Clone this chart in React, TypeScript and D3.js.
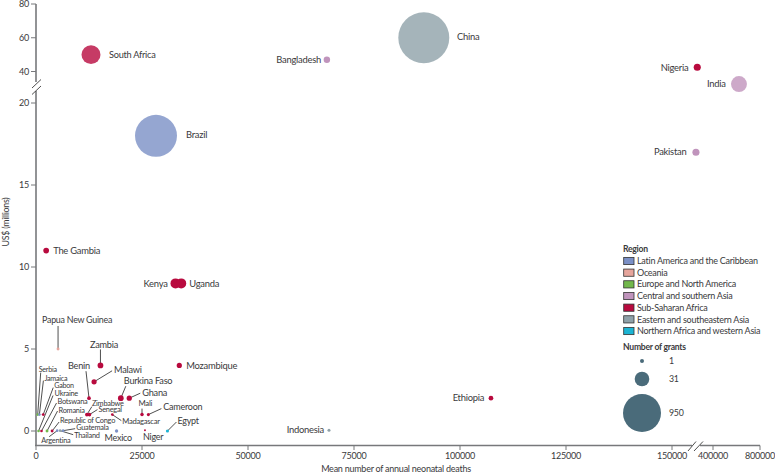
import React from "react";
import * as d3 from "d3";

const W = 775, H = 474;

const regions = ["Latin America and the Caribbean", "Oceania", "Europe and North America", "Central and southern Asia", "Sub-Saharan Africa", "Eastern and southeastern Asia", "Northern Africa and western Asia"];
const regionColors = ["#7b90c6", "#e6a59c", "#72b84c", "#c094bc", "#b80a3e", "#8fa1a9", "#1cb4d3"];

const names = ["China","South Africa","Bangladesh","Nigeria","India","Pakistan","Brazil","The Gambia","Kenya","Uganda","Mozambique","Ethiopia","Indonesia","Papua New Guinea","Zambia","Malawi","Benin","Burkina Faso","Ghana","Mali","Cameroon","Zimbabwe","Senegal","Madagascar","Egypt","Niger","Mexico","Serbia","Jamaica","Gabon","Ukraine","Botswana","Romania","Republic of Congo","Guatemala","Thailand","Argentina"];
const deaths = [91460,12970,68600,304000,621000,296000,28300,2400,32900,34250,33800,107300,69100,5200,15200,13700,12500,20000,22000,25000,26500,12000,12600,18000,31000,25700,19000,400,800,1700,600,1300,2600,3800,6400,5700,5000];
const funding = [60,50,47,42.5,32,17,18,11,9,9,4,2,0.05,5,4,3,2,2,2,1,1,1,1,1,0,0.05,0,1,1,1,0,0,0,0,0.02,0.02,0.02];
const grantSize = [2010,106,4.2,5.5,50,5.5,1232,3,13,13,2.3,1.7,0.45,0.4,3,2.3,0.8,3,2.3,0.7,0.5,0.8,0.8,0.3,0.5,0.1,0.6,0.3,0.3,0.4,0.3,0.3,0.4,0.4,0.3,0.3,0.3];
const regionIndex = [5,4,3,4,3,3,0,4,4,4,4,4,5,1,4,4,4,4,4,4,4,4,4,4,6,4,0,2,0,4,2,4,2,4,0,5,0];

const yTicks = [0,5,10,15,20,40,60,80];
const xTicks = [0,25000,50000,75000,100000,125000,150000,400000,800000];
const legendGrants = [1,31,950];

// label placement relative to each point: [text dx, text dy (centre), leader end dx, leader end dy, font size]
const labelLayout: Record<string, number[]> = {
  "China":[33.2,-1,0,0,9.4],"South Africa":[18,0,0,0,9.2],"Bangladesh":[-50.5,0,0,0,9.4],"Nigeria":[-36.6,0,0,0,9.4],"India":[-32,0,0,0,9.4],"Pakistan":[-42,0,0,0,9.4],"Brazil":[30,-1,0,0,9.4],"The Gambia":[7,0,0,0,9.4],"Kenya":[-32,0,0,0,9.4],"Uganda":[8,0,0,0,9.4],"Mozambique":[7,0,0,0,9.4],"Ethiopia":[-38.3,0,0,0,9.4],"Indonesia":[-42.3,0,0,0,9.4],
  "Papua New Guinea":[-16,-29,0,-23,8.9],"Zambia":[-10.5,-21,0,-16,9.2],"Malawi":[20,-12,18,-11,9.2],"Benin":[-21,-32,-3,-27,9.2],"Burkina Faso":[3,-17,5,-12,9.2],"Ghana":[13,-5,11,-5,9.2],"Mali":[-3.5,-11,0,-6,7.8],"Cameroon":[15,-8,13,-6,9],"Zimbabwe":[5,-11,5,-8,7.4],"Senegal":[9,-5,8,-5,7.4],"Madagascar":[10,7,9,6,7.6],"Egypt":[10,-10,9,-9,9],"Niger":[-2,7,0,0,9],"Mexico":[-12,7,0,0,9],
  "Serbia":[1,-45,3,-42,7.2],"Jamaica":[5,-36.5,4,-34,7.2],"Gabon":[11,-29,10,-27,7.2],"Ukraine":[16,-37.5,14.5,-35.5,7.4],"Botswana":[16,-29.5,15,-28,7.4],"Romania":[11.5,-21,10.5,-20,7.4],"Republic of Congo":[8,-11,7,-9,7.4],"Guatemala":[13,-3,12,-2,7.4],"Thailand":[14,4.5,13,4,7.4],"Argentina":[-16,10,-8,6,7.4],
};

const x = d3.scaleLinear().domain([0,150000,400000,800000]).range([36,672,713,760]);
const y = d3.scaleLinear().domain([0,20,40,80]).range([431,103,71.5,4]);
const r = d3.scaleSqrt().domain([0,1,31,950]).range([0.5,2,7.3,19]);

const font = "Lato, 'Open Sans', sans-serif";
const ink = "#3a3a3c";
const axisCol = "#77787b";

const points = names.map((n,i)=>({n,x:x(deaths[i]),y:y(funding[i]),r:r(grantSize[i]),c:regionColors[regionIndex[i]],l:labelLayout[n]}));
const drawOrder = [...points].sort((a,b)=>b.r-a.r);

export default function App(){
  const axisY = 445.5;
  return (
    <svg width={W} height={H} style={{position:"absolute",left:0,top:0,background:"#fff"}} fontFamily={font} letterSpacing={-0.25}>
      {/* axes */}
      <path d={`M36 4V${axisY}`} stroke={axisCol} strokeWidth={1.6} fill="none"/>
      <path d={`M35 ${axisY}H760`} stroke={axisCol} strokeWidth={1.6} fill="none"/>
      {yTicks.map(t=>(
        <g key={t}>
          <line x1={31} x2={36} y1={y(t)} y2={y(t)} stroke={axisCol} strokeWidth={1}/>
          <text x={29} y={y(t)} dy="0.35em" textAnchor="end" fontSize={9} fill={ink}>{t}</text>
        </g>
      ))}
      {xTicks.map(t=>(
        <g key={t}>
          <line x1={x(t)} x2={x(t)} y1={axisY} y2={axisY+4.5} stroke={axisCol} strokeWidth={1}/>
          <text x={x(t)} y={456} dy="0.35em" textAnchor="middle" fontSize={9} fill={ink}>{t}</text>
        </g>
      ))}
      {/* axis breaks */}
      <rect x={34} y={82} width={4} height={9} fill="#fff"/>
      <path d="M32 88L41 79.5M32 94.5L41 86" stroke="#222" strokeWidth={0.8}/>
      <rect x={692} y={444} width={8} height={3.5} fill="#fff"/>
      <path d="M688 451L696 441.5M694 451L703 441.5" stroke="#222" strokeWidth={0.8}/>
      <text transform="translate(5.5,222) rotate(-90)" textAnchor="middle" dy="0.35em" fontSize={8.8} fill={ink}>US$ (millions)</text>
      <text x={396} y={469} textAnchor="middle" dy="0.35em" fontSize={9} fill={ink}>Mean number of annual neonatal deaths</text>

      {/* leaders */}
      {points.filter(p=>p.l[2]!==0||p.l[3]!==0).map(p=>(
        <line key={p.n} x1={p.x} y1={p.y} x2={p.x+p.l[2]} y2={p.y+p.l[3]} stroke="#222" strokeWidth={0.8}/>
      ))}
      {/* bubbles */}
      {drawOrder.map(p=>(
        <circle key={p.n} cx={p.x} cy={p.y} r={p.r} fill={p.c} fillOpacity={p.r>6?0.8:1}/>
      ))}
      {/* labels */}
      {points.map(p=>(
        <text key={p.n} x={p.x+p.l[0]} y={p.y+p.l[1]} dy="0.35em" fontSize={p.l[4]} fill={ink}>{p.n}</text>
      ))}

      {/* legend */}
      <text x={623} y={249} dy="0.35em" fontSize={8.6} fontWeight={700} fill={ink}>Region</text>
      {regions.map((g,i)=>{
        const cy = 261+i*11.67;
        return (
          <g key={g}>
            <rect x={623.7} y={cy-3.6} width={10.3} height={7.2} fill={regionColors[i]} stroke="#333" strokeWidth={0.8}/>
            <text x={637} y={cy} dy="0.35em" fontSize={9} fill={ink}>{g}</text>
          </g>
        );
      })}
      <text x={623} y={347} dy="0.35em" fontSize={8.6} fontWeight={700} fill={ink}>Number of grants</text>
      {legendGrants.map((g,i)=>{
        const cy = [361,379,413][i];
        return (
          <g key={g}>
            <circle cx={642} cy={cy} r={r(g)} fill="#4a6b7a"/>
            <text x={669} y={cy} dy="0.35em" fontSize={8.8} fill={ink}>{g}</text>
          </g>
        );
      })}
    </svg>
  );
}
